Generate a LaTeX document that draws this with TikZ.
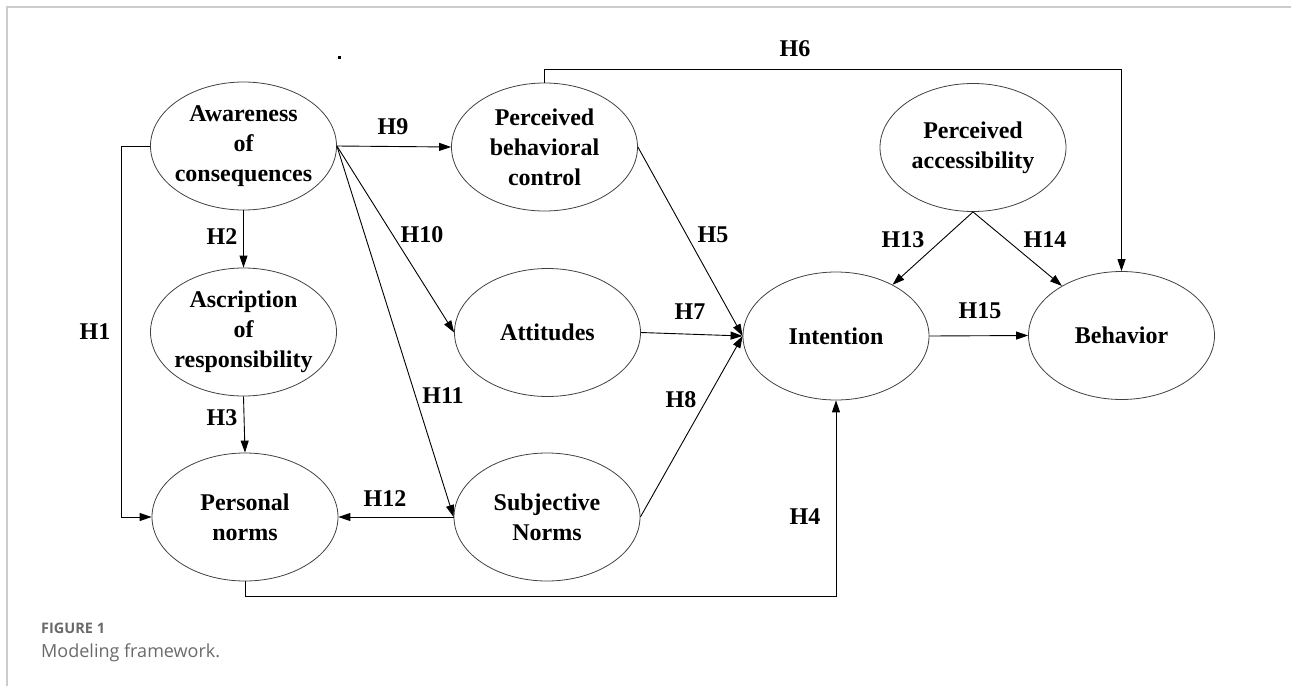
\documentclass[tikz,border=0pt]{standalone}
\usepackage{fontspec}
\setmainfont{Liberation Serif}
\newfontfamily\capfont{Open Sans}
\usetikzlibrary{shapes.geometric,arrows.meta}
\definecolor{framegray}{HTML}{CCCCCC}
\definecolor{capgray}{HTML}{6A6A6A}
\definecolor{ellgray}{HTML}{404040}
\tikzset{
  ell/.style={draw=ellgray, line width=0.8pt, ellipse, minimum width=186pt, minimum height=128pt, inner sep=0pt},
  lbl/.style={font=\fontsize{24}{30}\selectfont\bfseries, align=center, inner sep=0pt},
  hyp/.style={font=\fontsize{24}{28}\selectfont\bfseries, inner sep=0pt},
  arr/.style={-{Triangle[length=12pt,width=8pt]}, line width=0.9pt},
  captop/.style={anchor=west, inner sep=0pt, text=capgray, font=\capfont\bfseries\fontsize{14.5}{17}\selectfont},
  capbot/.style={anchor=west, inner sep=0pt, text=capgray, font=\capfont\fontsize{18}{22}\selectfont}
}
\begin{document}
\begin{tikzpicture}[x=1pt,y=-1pt]
\useasboundingbox (0,0) rectangle (1291,686);
% frame
\draw[framegray, line width=1.5pt] (7,686) -- (7,7) -- (1291,7);
% dot
\fill (338,56) rectangle (341,59);
% ellipses
\node[ell] (aw) at (243.5,146) {};
\node[lbl] (awt) at (aw) {Awareness\\of\\consequences};
\node[ell] (pbc) at (544.5,147) {};
\node[lbl] (pbct) at (pbc) {Perceived\\behavioral\\control};
\node[ell] (pa) at (973,147.5) {};
\node[lbl] (pat) at (pa) {Perceived\\accessibility};
\node[ell] (asc) at (243.5,332) {};
\node[lbl] (asct) at (asc) {Ascription\\of\\responsibility};
\node[ell] (att) at (547.5,332.5) {};
\node[lbl] (attt) at (att) {Attitudes};
\node[ell] (int) at (836,336) {};
\node[lbl] (intt) at (int) {Intention};
\node[ell] (beh) at (1121.5,335.5) {};
\node[lbl] (beht) at (beh) {Behavior};
\node[ell] (pn) at (245,517) {};
\node[lbl] (pnt) at (pn) {Personal\\norms};
\node[ell] (sn) at (547,517) {};
\node[lbl] (snt) at (sn) {Subjective\\Norms};
% corner coordinates
\coordinate (h1a) at (121,146);
\coordinate (h1b) at (121,517);
\coordinate (h4a) at (245,596);
\coordinate (h4b) at (836,596);
\coordinate (h6a) at (544.5,69);
\coordinate (h6b) at (1121.5,69);
% connectors
\draw[arr] (aw.west) -- (h1a) -- (h1b) -- (pn.west);
\draw[arr] (aw.south) -- (asc.north);
\draw[arr] (asc.south) -- (pn.north);
\draw[arr] (aw.east) -- (pbc.west);
\draw[arr] (aw.east) -- (att.west);
\draw[arr] (aw.east) -- (sn.west);
\draw[arr] (sn.west) -- (pn.east);
\draw[arr] (pbc.east) -- (int.west);
\draw[arr] (att.east) -- (int.west);
\draw[arr] (sn.east) -- (int.west);
\draw[arr] (pn.south) -- (h4a) -- (h4b) -- (int.south);
\draw[arr] (pbc.north) -- (h6a) -- (h6b) -- (beh.north);
\draw[arr] (pa.south) -- (int);
\draw[arr] (pa.south) -- (beh);
\draw[arr] (int.east) -- (beh.west);
% hypothesis labels
\node[hyp] (l1) at (95,332) {H1};
\node[hyp] (l2) at (222,237) {H2};
\node[hyp] (l3) at (222,418) {H3};
\node[hyp] (l4) at (805,517) {H4};
\node[hyp] (l5) at (713,235) {H5};
\node[hyp] (l6) at (795,49) {H6};
\node[hyp] (l7) at (690,312) {H7};
\node[hyp] (l8) at (681,400) {H8};
\node[hyp] (l9) at (393,127) {H9};
\node[hyp] (l10) at (422,235) {H10};
\node[hyp] (l11) at (443,396) {H11};
\node[hyp] (l12) at (385,499) {H12};
\node[hyp] (l13) at (903,240) {H13};
\node[hyp] (l14) at (1045,240) {H14};
\node[hyp] (l15) at (980,311) {H15};
% caption
\node[captop] (fig) at (41,628) {FIGURE 1};
\node[capbot] (cap) at (41,653) {Modeling framework.};
\end{tikzpicture}
\end{document}
